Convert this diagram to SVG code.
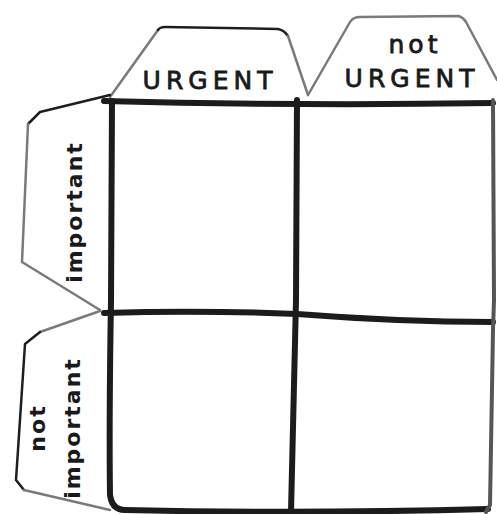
<svg xmlns="http://www.w3.org/2000/svg" width="497" height="514" viewBox="0 0 497 514">
<style>
.tab{fill:none;stroke:#7a7a7a;stroke-width:2.5;stroke-linejoin:round;stroke-linecap:round}
.tabd{fill:none;stroke:#1e1e1e;stroke-width:2.5;stroke-linejoin:round;stroke-linecap:round}
.grid{fill:none;stroke:#1c1c1c;stroke-width:6;stroke-linecap:round;stroke-linejoin:round}
.lbl{font-family:"DejaVu Sans","Liberation Sans",sans-serif;font-size:25px;fill:#1a1a1a;stroke:#1a1a1a;stroke-width:0.8;letter-spacing:5px}
.lr{font-family:"DejaVu Sans","Liberation Sans",sans-serif;font-size:22px;fill:#1a1a1a;letter-spacing:2px;font-weight:bold}
</style>
<rect width="497" height="514" fill="#ffffff"/>
<g id="tab-urgent">
<path class="tab" d="M110,97 L158,30"/>
<path class="tabd" d="M158,30 Q160,27 165,27 L278,29 Q284,30 288,36"/>
<path class="tab" d="M288,36 L308,95"/>
<text class="lbl" x="210" y="89" text-anchor="middle">URGENT</text>
</g>
<g id="tab-not-urgent">
<path class="tab" d="M308,95 L350,22 Q353,17 360,17 L458,16 Q463,17 466,22 L497,80"/>
<text class="lbl" x="415" y="53" text-anchor="middle" style="letter-spacing:4px">not</text>
<text class="lbl" x="412" y="87" text-anchor="middle">URGENT</text>
</g>
<g id="tab-important">
<path class="tabd" d="M110,95 L40,112 L28,124"/>
<path class="tab" d="M28,124 L22,262 L100,310"/>
<text class="lr" transform="translate(82,212) rotate(-90)" text-anchor="middle">important</text>
</g>
<g id="tab-not-important">
<path class="tab" d="M100,311 L40,332"/>
<path class="tabd" d="M40,332 L25,344 L16,480 L24,490"/>
<path class="tab" d="M24,490 L110,510"/>
<text class="lr" transform="translate(45,428) rotate(-90)" text-anchor="middle">not</text>
<text class="lr" transform="translate(80,428) rotate(-90)" text-anchor="middle">important</text>
</g>
<g id="connectors">
<path class="grid" d="M104,101 Q300,106 493,103"/>
<path class="grid" d="M112,101 L111,300 Q109,420 110,495 Q112,510 125,510"/>
<path class="grid" d="M104,313 Q200,310 297,314 Q400,322 493,322"/>
<path class="grid" d="M125,510 Q300,514 488,509"/>
<path class="grid" d="M297,100 L296,300 L291,512"/>
<path class="grid" style="stroke:#555;stroke-width:4" d="M493,100 L494,300 L493,330 L490,505 L486,512"/>
</g>
</svg>
